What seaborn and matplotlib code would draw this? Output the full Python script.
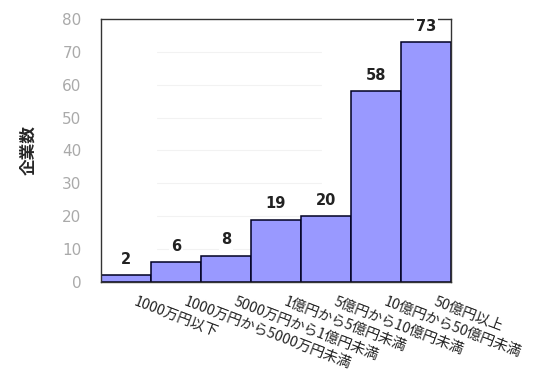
import matplotlib
matplotlib.use("Agg")
import matplotlib.pyplot as plt
import seaborn as sns
import pandas as pd

categories = [
    "1000万円以下",
    "1000万円から5000万円未満",
    "5000万円から1億円未満",
    "1億円から5億円未満",
    "5億円から10億円未満",
    "10億円から50億円未満",
    "50億円以上",
]
counts = [2, 6, 8, 19, 20, 58, 73]
y_ticks = [0, 10, 20, 30, 40, 50, 60, 70, 80]

sns.set_style("white")
plt.rcParams["font.family"] = ["Noto Sans CJK JP", "DejaVu Sans"]

df = pd.DataFrame({"規模": categories, "企業数": counts})

fig = plt.figure(figsize=(5.47, 3.79), dpi=100)
ax = fig.add_axes([0.1846, 0.256, 0.6399, 0.694])

sns.barplot(data=df, x="規模", y="企業数", width=1.0, color="#9999FF",
            saturation=1, edgecolor="#000022", linewidth=1.1, ax=ax)

ax.set_ylim(0, 80)
ax.set_xlim(-0.5, len(categories) - 0.5)
ax.set_yticks(y_ticks)
ax.set_yticklabels([str(t) for t in y_ticks], color="#aaaaaa", fontsize=11,
                   family="DejaVu Sans")
ax.tick_params(axis="y", length=0, pad=14)
ax.tick_params(axis="x", length=0)

# faint horizontal guides
for t in y_ticks[1:-1]:
    ax.axhline(t, xmin=0.16, xmax=0.63, color="#f2f2f2", lw=0.8, zorder=0)

for side in ["left", "bottom", "right", "top"]:
    ax.spines[side].set_visible(True)
    ax.spines[side].set_color("#333333")
    ax.spines[side].set_linewidth(1.0)

# value labels above each bar
for i, v in enumerate(counts):
    ax.annotate(str(v), (i, v), xytext=(0, 6), textcoords="offset points",
                ha="center", va="bottom", fontsize=10.5, fontweight="bold",
                color="#222222", family="DejaVu Sans",
                bbox=dict(boxstyle="square,pad=0.15", fc="white", ec="none"))

# slanted category labels
ax.set_xticklabels([])
ax.set_xlabel("")
for i, c in enumerate(categories):
    ax.annotate(c, (i, 0), xytext=(8, -9), textcoords="offset points",
                rotation=-21, rotation_mode="anchor", ha="left", va="top",
                fontsize=10.3, color="#222222")

ax.set_ylabel("企業数", fontsize=12, fontweight="bold", labelpad=18)

fig.savefig("out.png", dpi=100)
